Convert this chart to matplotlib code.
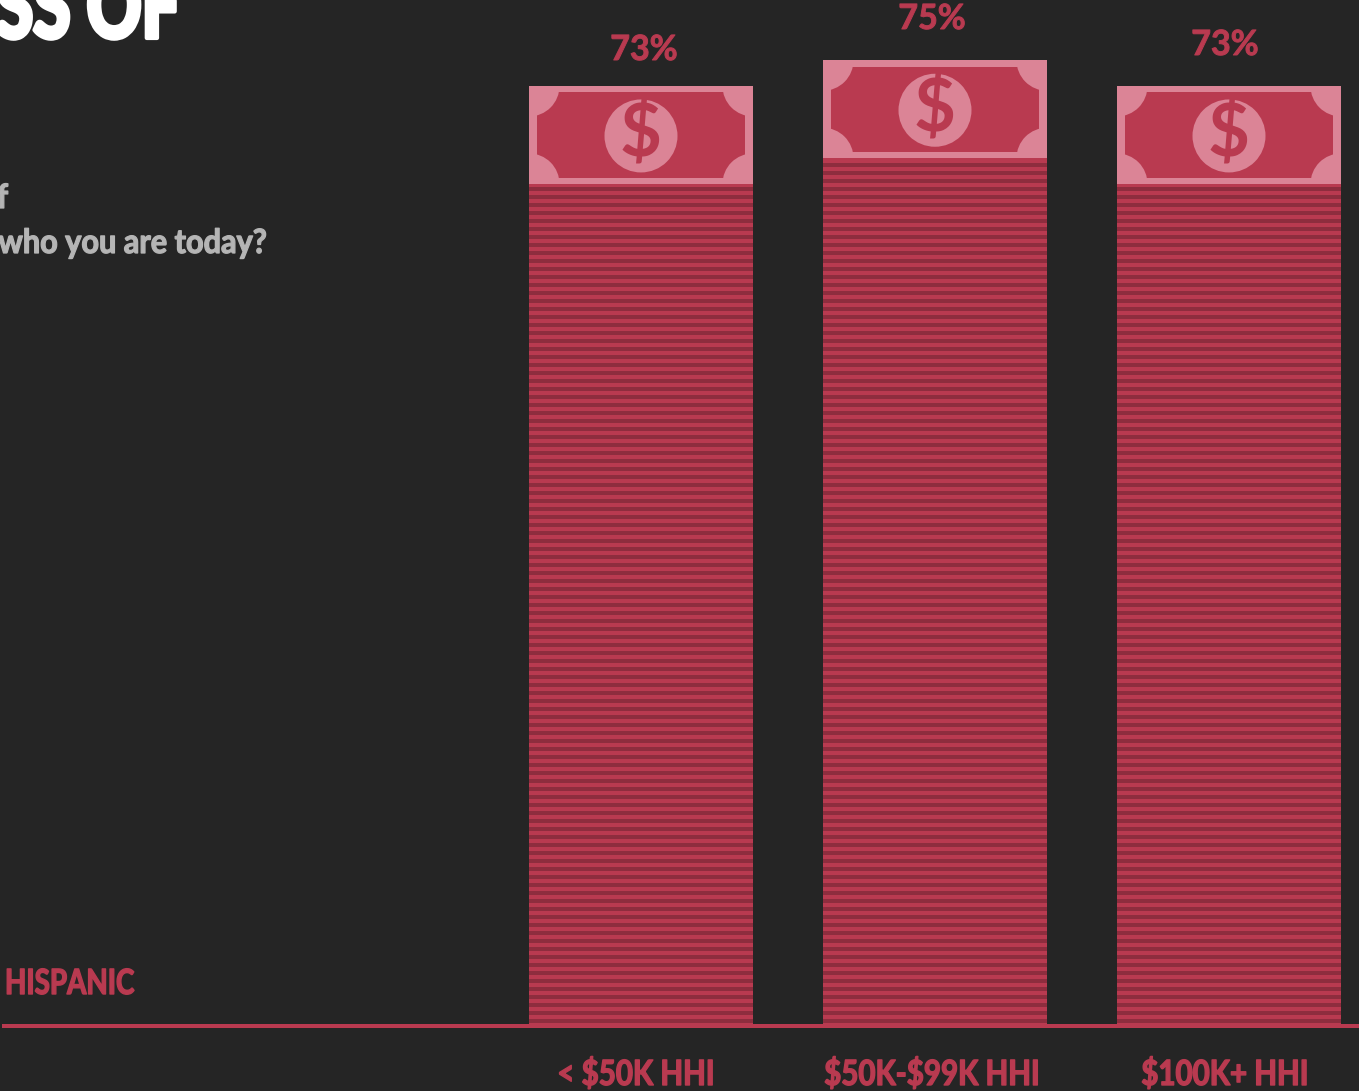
#!/usr/bin/python

import matplotlib
matplotlib.use('Agg')
import numpy as np
import matplotlib.pyplot as plt
import matplotlib.patheffects as pe
from matplotlib.patches import Rectangle, Circle
from matplotlib.transforms import Affine2D

categories = ['< $50K HHI', '$50K-$99K HHI', '$100K+ HHI']
values = [73, 75, 73]
value_labels = ['73%', '75%', '73%']
group_label = 'HISPANIC'
title_tail = 'SS OF'
subtitle_lines = ['f', 'who you are today?']

BG = '#252525'
RED = '#B93A50'
DARK = '#8E2D3E'
LIGHT = '#DB8496'
GREY = '#B5B5B5'
FONT = ['Lato', 'DejaVu Sans']

W, H = 1359, 1091
PX_PER_PCT = 12.85
BASE_Y = 1024
BAR_W = 224 / 294.0
BILL_H = 98

fig = plt.figure(figsize=(W / 100, H / 100), dpi=100, facecolor=BG)
ax = fig.add_axes([0, 0, 1, 1], facecolor=BG)
ax.set_xlim((0 - 641) / 294.0, (W - 641) / 294.0)
ax.set_ylim((BASE_Y - H) / PX_PER_PCT, BASE_Y / PX_PER_PCT)
ax.axis('off')

# pixel space with y going down, for the text and the baseline
px_trans = Affine2D().scale(1, -1).translate(0, H)


class Narrow(pe.AbstractPathEffect):
    # squeezes and thickens glyphs around one x position, no condensed heavy face installed
    def __init__(self, x0, sx, stroke):
        super().__init__()
        self.x0 = x0
        self.sx = sx
        self.stroke = stroke

    def draw_path(self, renderer, gc, tpath, affine, rgbFace=None):
        squeeze = Affine2D().translate(-self.x0, 0).scale(self.sx, 1).translate(self.x0, 0)
        gc0 = renderer.new_gc()
        gc0.copy_properties(gc)
        gc0.set_linewidth(self.stroke)
        gc0.set_foreground(rgbFace)
        renderer.draw_path(gc0, tpath, affine + squeeze, rgbFace)
        gc0.restore()


def txt(x, y, s, size, color, ha='center', weight='bold', sx=0.84, stroke=0.6):
    t = ax.text(x, y, s, transform=px_trans, fontsize=size, color=color, ha=ha,
                va='baseline', fontweight=weight, family=FONT, clip_on=False, parse_math=False)
    t.set_path_effects([Narrow(x, sx, stroke)])


def draw_bill(i, v):
    # bill sits on top of the stack, drawn in pixels from the bar's top centre
    cx, cy = ax.transData.transform((i, v))
    tr = Affine2D().scale(1, -1).translate(cx, cy)
    hw = 112
    outer = Rectangle((-hw, 0), 2 * hw, BILL_H, fc=LIGHT, ec='none', transform=tr, zorder=3)
    ax.add_patch(outer)
    inner = Rectangle((-hw + 8, 6.5), 2 * hw - 16, BILL_H - 12.5, fc=RED, ec='none', transform=tr, zorder=4)
    ax.add_patch(inner)
    for x0, y0 in [(-hw, 0), (hw, 0), (-hw, BILL_H), (hw, BILL_H)]:
        c = Circle((x0, y0), 30.5, fc=LIGHT, ec='none', transform=tr, zorder=5)
        ax.add_patch(c)
        c.set_clip_path(outer)
    ax.add_patch(Circle((0, 50), 36.5, fc=LIGHT, ec='none', transform=tr, zorder=6))
    ax.text(0, 71, '$', transform=tr, fontsize=52, color=RED, ha='center', va='baseline',
            fontweight='bold', family=FONT, zorder=7, parse_math=False)


x = np.arange(len(categories))
stack_tops = [v - BILL_H / PX_PER_PCT for v in values]
ax.bar(x, stack_tops, width=BAR_W, color=RED, zorder=1)
for i, top in enumerate(stack_tops):
    # paper edges of the stack
    edges = np.arange(1 / PX_PER_PCT, top - 3 / PX_PER_PCT, 8 / PX_PER_PCT)
    ax.bar(np.full(len(edges), i), np.full(len(edges), 4 / PX_PER_PCT), width=BAR_W,
           bottom=edges, color=DARK, zorder=2, antialiased=False)
    draw_bill(i, values[i])

ax.add_patch(Rectangle((2, BASE_Y), W - 2, 4, fc=RED, ec='none', transform=px_trans, zorder=8))

label_x = [644, 932, 1225]
label_y = [60, 29, 55]
for lx, ly, s in zip(label_x, label_y, value_labels):
    txt(lx, ly, s, 25, RED, sx=0.98, stroke=0.7)

cat_x = [636, 932, 1225]
for cx, s in zip(cat_x, categories):
    txt(cx, 1085, s, 25, RED, sx=0.85, stroke=1.0)

txt(5, 994, group_label, 25, RED, ha='left', sx=0.80, stroke=1.0)
txt(180, 38, title_tail, 66, 'white', ha='right', weight='black', sx=0.74, stroke=3.0)
txt(8, 208, subtitle_lines[0], 24, GREY, ha='right', sx=0.92, stroke=0.9)
txt(267, 253, subtitle_lines[1], 24, GREY, ha='right', sx=0.92, stroke=0.9)

fig.savefig('out.png', dpi=100, facecolor=BG)
